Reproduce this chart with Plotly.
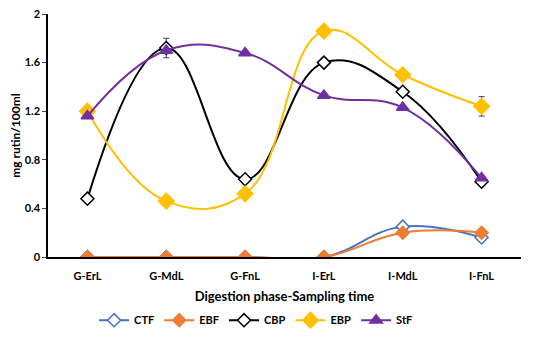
import plotly.graph_objects as go

categories = ["G-ErL", "G-MdL", "G-FnL", "I-ErL", "I-MdL", "I-FnL"]
ctf = [0, 0, 0, 0, 0.25, 0.16]
ebf = [0, 0, 0, 0, 0.20, 0.20]
cbp = [0.48, 1.72, 0.64, 1.60, 1.36, 0.62]
ebp = [1.20, 0.46, 0.52, 1.86, 1.50, 1.24]
stf = [1.16, 1.70, 1.68, 1.33, 1.23, 0.65]
cbp_err = [0, 0.08, 0, 0, 0, 0]
ebp_err = [0, 0, 0, 0, 0, 0.08]
y_ticks = [0, 0.4, 0.8, 1.2, 1.6, 2]
y_tick_labels = ["0", "0.4", "0.8", "1.2", "1.6", "2"]

FONT = "Lato"
fig = go.Figure()

def add(name, y, color, symbol, fill, size=10, err=None):
    kw = {}
    if err is not None:
        kw["error_y"] = dict(type="data", array=err, visible=True, color="#404040", thickness=1, width=3)
    fig.add_trace(go.Scatter(
        x=categories, y=y, name=name, mode="lines+markers",
        line=dict(color=color, width=2, shape="spline", smoothing=1.2),
        marker=dict(symbol=symbol, size=size, color=fill, line=dict(color=color, width=1.5)),
        **kw))

add("CTF", ctf, "#4472C4", "diamond", "white")
add("EBF", ebf, "#ED7D31", "diamond", "#ED7D31")
add("CBP", cbp, "#000000", "diamond", "white", err=cbp_err)
add("EBP", ebp, "#FFC000", "diamond", "#FFC000", size=12, err=ebp_err)
add("StF", stf, "#7030A0", "triangle-up", "#7030A0", size=11)

bold = dict(family=FONT, size=11, color="black", weight="bold")
fig.update_layout(
    width=550, height=337,
    margin=dict(l=40, r=37, t=6, b=88, autoexpand=False),
    paper_bgcolor="white", plot_bgcolor="white",
    font=bold,
    showlegend=True,
    legend=dict(orientation="h", x=0.44, xanchor="center", y=-0.26, yanchor="middle",
                font=bold, itemwidth=30, tracegroupgap=0),
    xaxis=dict(showline=True, linecolor="black", linewidth=1.5, showgrid=False,
               ticks="", ticklabelstandoff=8, tickfont=bold, automargin=False,
               title=dict(text="Digestion phase-Sampling time", font=dict(family=FONT, size=13, weight="bold"), standoff=11),
               range=[-0.5, 5.5]),
    yaxis=dict(showline=True, linecolor="black", linewidth=1.5, showgrid=False, automargin=False,
               range=[0, 2.0001], tickvals=y_ticks, ticktext=y_tick_labels, ticks="outside", ticklen=4,
               tickfont=bold, ticklabeloverflow="allow",
               title=dict(text="mg rutin/100ml", font=dict(family=FONT, size=12, weight="bold"), standoff=12),
               zeroline=False),
)

fig.write_html("out.html")
